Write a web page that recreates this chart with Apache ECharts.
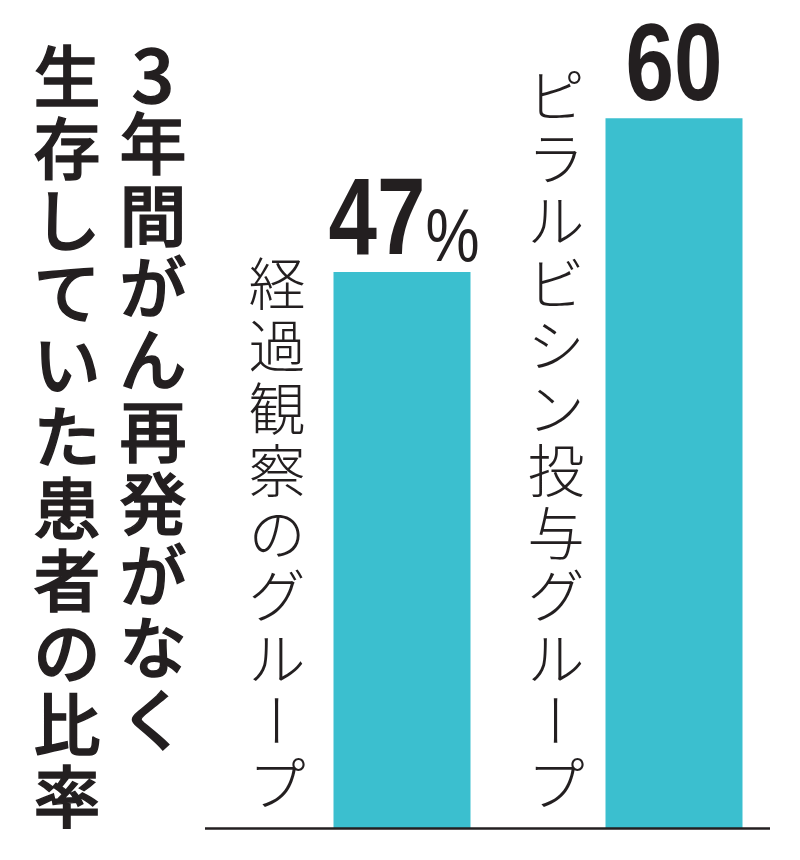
<!DOCTYPE html>
<html><head><meta charset="utf-8">
<script src="https://cdn.jsdelivr.net/npm/echarts@6/dist/echarts.min.js"></script>
<style>html,body{margin:0;padding:0;background:#fff}#c{width:800px;height:860px}</style>
</head><body><div id="c"></div>
<script>
// ---- data ----
const categories = ['経過観察のグループ', 'ピラルビシン投与グループ'];
const values = [47, 60];
const valueUnit = '%';
const titleColumns = ['3年間がん再発がなく', '生存していた患者の比率'];

// ---- helpers ----
function verticalText(str, x, firstCenterY, pitch, style) {
  const chars = Array.from(str);
  return chars.map((ch, i) => {
    const st = Object.assign({ text: ch, align: 'center', verticalAlign: 'middle', fill: '#231f20' }, style);
    if (/[0-9]/.test(ch)) { st.fontSize = Math.round(style.fontSize * 1.12); }
    return {
      type: 'text',
      x: x,
      y: firstCenterY + i * pitch + (/[0-9]/.test(ch) ? 2 : 0),
      rotation: ch === 'ー' ? -Math.PI / 2 : 0,
      z: 10,
      style: st
    };
  });
}

const catStyle = { fontFamily: '"Noto Sans CJK JP", sans-serif', fontSize: 57, fontWeight: 300 };
const titleStyle = { fontFamily: '"Noto Sans CJK JP", sans-serif', fontSize: 67, fontWeight: 500, stroke: '#231f20', lineWidth: 1.4 };

const catPitch = 62.5, catLastCenter = 783;
const catOffsetX = [-125, -118]; // label centre relative to bar centre

const chart = echarts.init(document.getElementById('c'), null, { renderer: 'canvas' });
chart.setOption({
  animation: false,
  backgroundColor: '#ffffff',
  grid: { left: 402, right: 126, top: 0, bottom: 32, containLabel: false },
  xAxis: {
    type: 'category', data: categories, boundaryGap: false,
    axisLine: { show: false }, axisTick: { show: false }, axisLabel: { show: false }, splitLine: { show: false }
  },
  yAxis: {
    type: 'value', min: 0, max: 70,
    show: false, splitLine: { show: false }
  },
  series: [{
    type: 'bar',
    data: values,
    barWidth: 137,
    itemStyle: { color: '#3bbfcf' },
    label: { show: false }
  }]
});

let graphics = [];
// title columns (right column read first)
graphics = graphics.concat(verticalText(titleColumns[0], 153, 72, 72, titleStyle));
graphics = graphics.concat(verticalText(titleColumns[1], 67, 77, 72, titleStyle));

categories.forEach((c, k) => {
  const top = chart.convertToPixel({ seriesIndex: 0 }, [k, values[k]]);
  // category label, vertical, bottom-anchored, left of bar
  const n = Array.from(c).length;
  graphics = graphics.concat(verticalText(c, top[0] + catOffsetX[k], catLastCenter - (n - 1) * catPitch, catPitch, catStyle));
  // value label above bar
  const txt = k === 0 ? '{a|' + values[k] + '}{b|' + valueUnit + '}' : '{a|' + values[k] + '}';
  graphics.push({
    type: 'text', x: top[0] + (k === 0 ? 2 : 0), y: top[1] + 6, scaleX: 0.80, z: 10,
    style: {
      text: txt, align: 'center', verticalAlign: 'bottom',
      rich: {
        a: { fontFamily: '"Liberation Sans", Arial, sans-serif', fontWeight: 'bold', fontSize: 109, lineHeight: 109, fill: '#231f20', verticalAlign: 'bottom' },
        b: { fontFamily: '"Liberation Sans", Arial, sans-serif', fontWeight: 'normal', fontSize: 76, lineHeight: 90, fill: '#231f20', verticalAlign: 'bottom' }
      }
    }
  });
});
// baseline
graphics.push({
  type: 'line', z: 20,
  shape: { x1: 205, y1: 828.5, x2: 770, y2: 828.5 },
  style: { stroke: '#231f20', lineWidth: 2.5 }
});

chart.setOption({ graphic: graphics });
</script>
</body></html>
